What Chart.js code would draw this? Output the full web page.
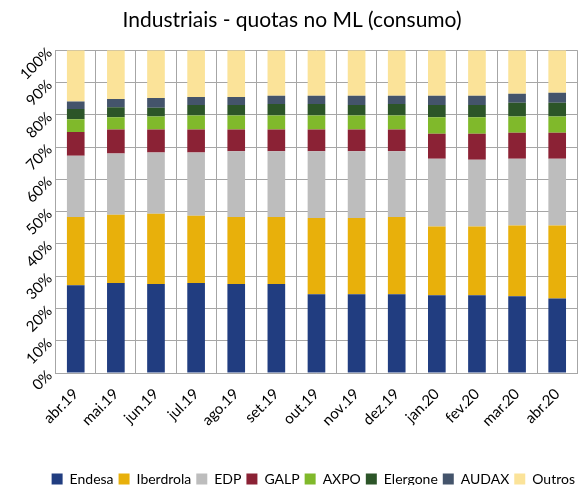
<!DOCTYPE html>
<html>
<head>
<meta charset="utf-8">
<script src="https://cdn.jsdelivr.net/npm/chart.js@4"></script>
<style>
  html, body { margin: 0; padding: 0; background: #ffffff; }
  #chart { display: block; }
</style>
</head>
<body>
<canvas id="chart" width="582" height="485"></canvas>
<script>
// Categories and series (shares in %)
const months = ['abr.19', 'mai.19', 'jun.19', 'jul.19', 'ago.19', 'set.19', 'out.19',
  'nov.19', 'dez.19', 'jan.20', 'fev.20', 'mar.20', 'abr.20'];

const endesa    = [27.2, 27.9, 27.6, 27.9, 27.6, 27.6, 24.4, 24.4, 24.4, 24.1, 24.1, 23.8, 23.1];
const iberdrola = [21.1, 21.1, 21.7, 20.8, 20.7, 20.7, 23.6, 23.6, 23.9, 21.3, 21.3, 21.9, 22.6];
const edp       = [19.0, 19.0, 19.0, 19.6, 20.4, 20.4, 20.7, 20.7, 20.4, 21.0, 20.7, 20.7, 20.7];
const galp      = [7.4, 7.4, 7.1, 7.1, 6.7, 6.7, 6.7, 6.7, 6.7, 7.7, 8.0, 8.0, 8.0];
const axpo      = [3.9, 3.8, 4.1, 4.4, 4.4, 4.4, 4.4, 4.4, 4.4, 5.1, 5.1, 5.1, 5.1];
const elergone  = [3.2, 3.1, 2.7, 3.2, 3.2, 3.5, 3.5, 3.2, 3.5, 3.8, 3.8, 4.2, 4.2];
const audax     = [2.3, 2.6, 3.0, 2.5, 2.5, 2.6, 2.6, 2.9, 2.6, 2.9, 2.9, 2.8, 3.1];
const outros    = [15.9, 15.1, 14.8, 14.5, 14.5, 14.1, 14.1, 14.1, 14.1, 14.1, 14.1, 13.5, 13.2];

const yTicks = [0, 10, 20, 30, 40, 50, 60, 70, 80, 90, 100];

const fontFamily = 'Lato, "Open Sans", sans-serif';
const gridColor = '#a6a6a6';

function series(label, data, color) {
  return {
    label: label,
    data: data,
    backgroundColor: color,
    borderWidth: 0,
    barPercentage: 0.44,
    categoryPercentage: 1.0,
  };
}

const datasets = [
  series('Endesa', endesa, '#213d80'),
  series('Iberdrola', iberdrola, '#e8b00b'),
  series('EDP', edp, '#bdbdbd'),
  series('GALP', galp, '#8b2235'),
  series('AXPO', axpo, '#80b92b'),
  series('Elergone', elergone, '#2c5528'),
  series('AUDAX', audax, '#44546b'),
  series('Outros', outros, '#fbe399'),
];

new Chart(document.getElementById('chart'), {
  type: 'bar',
  data: { labels: months, datasets: datasets },
  options: {
    responsive: false,
    animation: false,
    layout: { padding: { left: 4, right: 2, top: 8, bottom: -11 } },
    plugins: {
      title: {
        display: true,
        text: 'Industriais - quotas no ML (consumo)',
        color: '#000000',
        font: { family: fontFamily, size: 21, weight: 'normal' },
        padding: { top: 0, bottom: 17 },
      },
      legend: {
        position: 'bottom',
        align: 'end',
        labels: {
          color: '#000000',
          font: { family: fontFamily, size: 14 },
          boxWidth: 11,
          boxHeight: 11,
          padding: 5,
        },
      },
      tooltip: { enabled: false },
    },
    scales: {
      x: {
        stacked: true,
        grid: { color: gridColor, offset: true, drawTicks: false },
        border: { color: gridColor },
        afterFit: (scale) => { scale.height += 25; },
        ticks: {
          color: '#000000',
          font: { family: fontFamily, size: 15 },
          minRotation: 45,
          maxRotation: 45,
          padding: 12,
        },
      },
      y: {
        stacked: true,
        min: 0,
        max: 100,
        afterBuildTicks: (axis) => { axis.ticks = yTicks.map(v => ({ value: v })); },
        grid: { color: gridColor, drawTicks: false },
        border: { color: gridColor },
        ticks: {
          color: '#000000',
          font: { family: fontFamily, size: 15 },
          minRotation: 45,
          maxRotation: 45,
          padding: 6,
          callback: (v) => v + '%',
        },
      },
    },
  },
});
</script>
</body>
</html>
